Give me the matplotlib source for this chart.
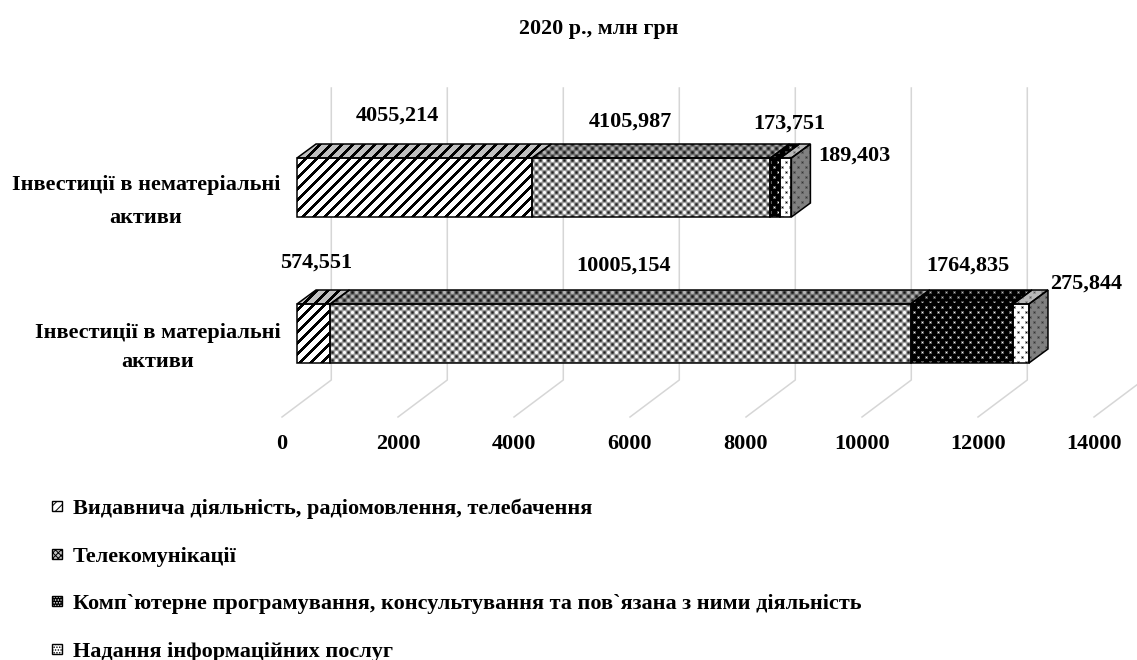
import numpy as np
import matplotlib
matplotlib.use("Agg")
import matplotlib.pyplot as plt
from matplotlib.legend_handler import HandlerTuple
from matplotlib.patches import Polygon, Patch

plt.rcParams["font.family"] = ["Liberation Serif", "DejaVu Serif"]
plt.rcParams["font.weight"] = "bold"
plt.rcParams["hatch.linewidth"] = 0.7

categories = ["Інвестиції в нематеріальні\nактиви", "Інвестиції в матеріальні\nактиви"]
series = ["Видавнича діяльність, радіомовлення, телебачення",
          "Телекомунікації",
          "Комп`ютерне програмування, консультування та пов`язана з ними діяльність",
          "Надання інформаційних послуг"]
publishing = [4055.214, 574.551]
telecom = [4105.987, 10005.154]
computing = [173.751, 1764.835]
information = [189.403, 275.844]
value_labels = [["4055,214", "574,551"], ["4105,987", "10005,154"],
                ["173,751", "1764,835"], ["189,403", "275,844"]]
ticks = [0, 2000, 4000, 6000, 8000, 10000, 12000, 14000]

W, H = 1137, 660
PX = 116 / 2000        # pixels per unit
X0 = 297               # pixel of zero on the bars' front face
DX, DY = 19 / PX, 14   # bar depth
bar_top = [158, 304]
bar_h = 59

# hand-placed labels, as in the original (pixels)
label_pos = [[(397, 116), (316, 263)], [(630, 122), (623, 266)],
             [(789, 124), (968, 266)], [(854, 156), (1086, 284)]]
cat_pos = [(146, 201.5), (158, 347.5)]


def xpx(p):
    return (p - X0) / PX


def stripes(bg):
    yy, xx = np.mgrid[0:11, 0:11]
    t = np.where((xx + yy) % 11 < 4, 0.0, bg)
    return t


def checks(scale=1.0):
    yy, xx = np.mgrid[0:8, 0:8]
    t = 0.62 + 0.5 * np.cos(2 * np.pi * xx / 8) * np.cos(2 * np.pi * yy / 8)
    return np.clip(t, 0.1, 1) * scale


def dots(bg, fg):
    t = np.full((10, 8), float(bg))
    for r, c in [(2, 2), (7, 6)]:
        t[r - 1:r + 2, c - 1:c + 2] = bg + (fg - bg) * 0.35
        t[r, c] = fg
    return t


face_tiles = [stripes(1.0), checks(), dots(0.0, 1.0), dots(1.0, 0.0)]
top_tiles = [stripes(0.75), checks(0.72), dots(0.0, 0.75), dots(0.72, 0.35)]
end_tile = dots(0.5, 0.2)

fig = plt.figure(figsize=(W / 100, H / 100), dpi=100)
ax = fig.add_axes([0, 0, 1, 1])
ax.set_axis_off()


def textured(points, tile):
    reps = (H // tile.shape[0] + 1, W // tile.shape[1] + 1)
    img = np.tile(tile, reps)[:H, :W]
    im = ax.imshow(img, cmap="gray", vmin=0, vmax=1, interpolation="nearest", aspect="auto",
                   extent=(xpx(0), xpx(W), H, 0), zorder=3)
    poly = Polygon(points, closed=True, transform=ax.transData)
    im.set_clip_path(poly)
    ax.add_patch(Polygon(points, closed=True, fill=False, ec="black", lw=1.1, zorder=4))


# grid: back wall and floor
for t in ticks:
    ax.plot([t + 34.3 / PX, t + 34.3 / PX, t - 15 / PX], [88, 380, 417], color="#d6d6d6", lw=1.1, zorder=1)
    ax.text(t - 15 / PX, 444, str(t), ha="center", va="center", fontsize=16, color="black")

all_series = [publishing, telecom, computing, information]
for i in range(len(categories)):
    top = bar_top[i]
    start = 0
    for s, vals in enumerate(all_series):
        end = start + vals[i]
        textured([(start, top), (end, top), (end + DX, top - DY), (start + DX, top - DY)], top_tiles[s])
        textured([(start, top), (end, top), (end, top + bar_h), (start, top + bar_h)], face_tiles[s])
        start = end
    textured([(start, top), (start + DX, top - DY), (start + DX, top + bar_h - DY), (start, top + bar_h)], end_tile)
    for s in range(len(all_series)):
        px, py = label_pos[s][i]
        ax.text(xpx(px), py, value_labels[s][i], ha="center", va="center", fontsize=16)
    ax.text(xpx(cat_pos[i][0]), cat_pos[i][1], categories[i], ha="center", va="center",
            fontsize=16, linespacing=1.9 if i == 0 else 1.57)

ax.set_xlim(xpx(0), xpx(W))
ax.set_ylim(H, 0)

fig.text(599 / W, 1 - 29 / H, "2020 р., млн грн", ha="center", va="center", fontsize=15.8)

handles = [Patch(fc="white", ec="black", hatch="////"),
           Patch(fc="#c4c4c4", ec="black", hatch="xxxxxx"),
           (Patch(fc="black", ec="white", lw=0, hatch="......"), Patch(fc="none", ec="black")),
           Patch(fc="white", ec="black", hatch="......")]
fig.legend(handles, series, handler_map={tuple: HandlerTuple(ndivide=1, pad=0)},
           loc="upper left", bbox_to_anchor=(45 / W, 1 - 492 / H), frameon=False,
           fontsize=16, handlelength=0.45, handleheight=0.315, handletextpad=0.5,
           labelspacing=1.24, borderpad=0.3, borderaxespad=0)

fig.savefig("out.png", dpi=100)
